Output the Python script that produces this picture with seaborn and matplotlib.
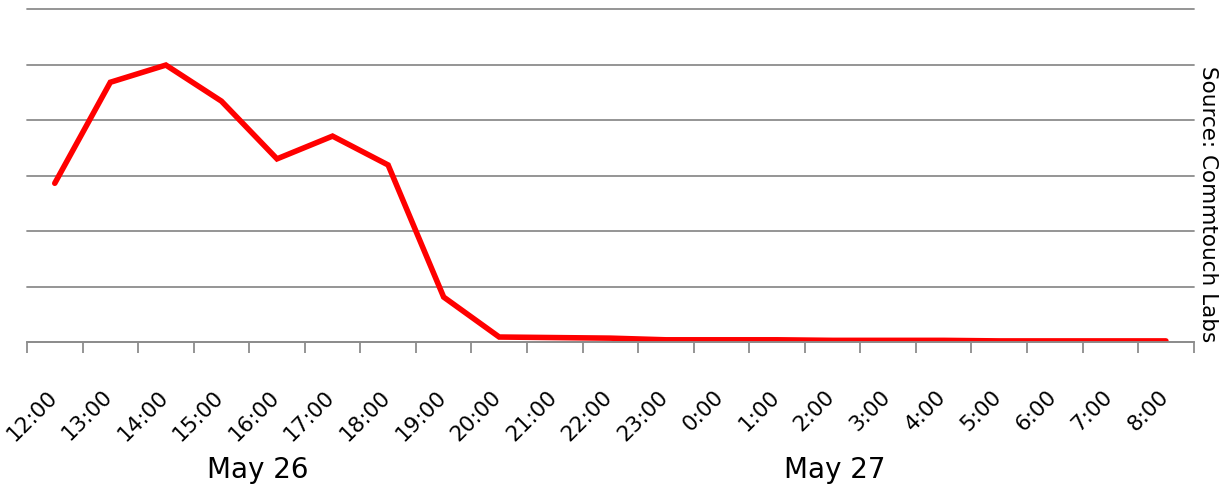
import numpy as np
import pandas as pd
import matplotlib
matplotlib.use("Agg")
import matplotlib.pyplot as plt
import matplotlib.transforms as mtransforms
import seaborn as sns

# hourly spam volume (relative units)
hours = ["12:00", "13:00", "14:00", "15:00", "16:00", "17:00", "18:00", "19:00",
         "20:00", "21:00", "22:00", "23:00", "0:00", "1:00", "2:00", "3:00",
         "4:00", "5:00", "6:00", "7:00", "8:00"]
volume = [2.86, 4.68, 4.99, 4.34, 3.30, 3.71, 3.19, 0.81, 0.09, 0.08, 0.07,
          0.04, 0.04, 0.04, 0.03, 0.03, 0.03, 0.02, 0.02, 0.02, 0.02]
day_labels = ["May 26", "May 27"]
source = "Source: Commtouch Labs"

df = pd.DataFrame({"pos": np.arange(len(hours)), "volume": volume})

sns.set_style("white")
plt.rcParams["font.family"] = ["DejaVu Sans"]
plt.rcParams["text.color"] = "black"
plt.rcParams["xtick.color"] = "black"

fig = plt.figure(figsize=(12.32, 4.87), dpi=100)
ax = fig.add_axes([0.0219, 0.2977, 0.9470, 0.6838])

sns.lineplot(data=df, x="pos", y="volume", ax=ax, color="#ff0000", linewidth=4.0,
             solid_capstyle="round", solid_joinstyle="miter")

ax.set_xlim(-0.5, len(hours) - 0.5)
ax.set_ylim(0, 6)
ax.set_yticks(np.arange(0, 7))
ax.set_yticklabels([])
ax.tick_params(axis="y", length=0)
ax.grid(axis="y", color="#8c8c8c", linewidth=1.3)
ax.set_axisbelow(True)
for gl in ax.get_ygridlines():
    gl.set_clip_on(False)

for s in ["top", "left", "right"]:
    ax.spines[s].set_visible(False)
ax.spines["bottom"].set_color("#8c8c8c")
ax.spines["bottom"].set_linewidth(1.3)

# tick marks sit on the category boundaries, labels on the centres
ax.set_xticks(np.arange(len(hours)))
ax.set_xticklabels(hours, rotation=45, ha="right", rotation_mode="anchor", fontsize=15.5)
ax.tick_params(axis="x", which="major", bottom=True, length=0, pad=32, labelcolor="black")
ax.set_xticks(np.arange(len(hours) + 1) - 0.5, minor=True)
ax.tick_params(axis="x", which="minor", bottom=True, length=8, width=1.3, color="#8c8c8c", direction="out")
shift = mtransforms.ScaledTranslation(-8 / 100, 0, fig.dpi_scale_trans)
for lab in ax.get_xticklabels():
    lab.set_transform(lab.get_transform() + shift)
ax.set_xlabel("")
ax.set_ylabel("")

fig.text(258 / 1232, 1 - 470 / 487, day_labels[0], fontsize=20, ha="center", va="center", color="black")
fig.text(835 / 1232, 1 - 470 / 487, day_labels[1], fontsize=20, ha="center", va="center", color="black")
fig.text(1208 / 1232, 1 - 204 / 487, source, fontsize=15.5, rotation=-90, ha="center", va="center", color="black")

fig.savefig("out.png", dpi=100)
